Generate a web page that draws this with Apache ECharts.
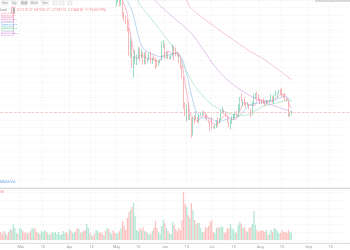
<!DOCTYPE html>
<html><head><meta charset="utf-8">
<script src="https://cdn.jsdelivr.net/npm/echarts@6/dist/echarts.min.js"></script>
<style>html,body{margin:0;padding:0;background:#fff}#c{width:350px;height:250px}</style>
</head><body><div id="c"></div>
<script>
// ---- data (prices in thousands USD) ----
const startDate = '2022-02-16';
const endDate = '2022-09-27';
const candleStart = '2022-05-01';
// [open, close, low, high]
const ohlc = [
[37.6,38.5,37.4,38.6],[38.5,38.5,38.0,39.1],[38.5,37.7,37.5,38.6],[37.7,39.7,37.6,40.0],
[39.7,36.5,35.8,39.8],[36.5,36.0,35.3,36.6],[36.0,35.5,34.8,36.1],[35.5,34.0,33.7,35.5],
[34.0,30.1,30.0,34.3],[30.1,31.0,29.7,32.6],[31.0,29.0,28.2,32.2],[29.0,29.05,26.7,30.0],
[29.05,29.3,28.7,30.9],[29.3,29.8,28.6,30.2],[29.8,31.3,29.5,31.3],[31.3,29.9,29.2,31.3],
[29.9,30.4,29.6,31.0],[30.4,28.7,28.7,30.6],[28.7,30.3,28.7,30.5],[30.3,29.2,28.8,30.7],
[29.2,29.4,29.0,29.6],[29.4,30.3,29.3,30.4],[30.3,29.1,28.9,30.6],[29.1,29.6,28.8,29.8],
[29.6,29.5,29.3,30.2],[29.5,29.2,28.0,29.8],[29.2,28.6,28.3,29.4],[28.6,29.0,28.5,29.2],
[29.0,29.4,28.9,29.5],[29.4,31.7,29.3,32.2],[31.7,31.8,31.2,32.4],[31.8,29.8,29.5,31.9],
[29.8,30.5,29.6,30.6],[30.5,29.7,29.5,30.6],[29.7,29.9,29.5,29.9],[29.9,29.95,29.5,30.2],
[29.95,31.4,29.9,31.7],[31.4,31.1,29.3,31.5],[31.1,30.2,30.0,31.3],[30.2,30.1,29.9,30.6],
[30.1,29.1,28.9,30.3],[29.1,28.4,28.1,29.4],[28.4,26.6,26.6,28.5],[26.6,22.5,22.0,26.9],
[22.5,22.2,20.9,23.0],[22.2,22.6,20.1,22.7],[22.6,20.4,20.3,22.9],[20.4,20.5,20.3,21.3],
[20.5,19.0,17.6,20.7],[19.0,20.6,18.0,20.7],[20.6,20.55,19.7,21.0],[20.55,20.7,20.4,21.7],
[20.7,20.0,19.8,20.8],[20.0,21.1,19.9,21.2],[21.1,21.2,20.9,21.5],[21.2,21.5,21.0,21.6],
[21.5,21.0,21.0,21.8],[21.0,20.7,20.5,21.5],[20.7,20.3,20.2,21.2],[20.3,20.1,19.9,20.4],
[20.1,19.8,18.7,20.1],[19.8,19.3,19.0,20.8],[19.3,19.25,19.0,19.4],[19.25,19.3,19.0,19.6],
[19.3,20.2,19.1,20.3],[20.2,20.15,19.3,20.7],[20.15,20.5,19.8,20.6],[20.5,21.6,20.3,21.8],
[21.6,21.65,21.2,22.3],[21.65,21.6,21.3,21.9],[21.6,20.8,20.7,21.6],[20.8,19.9,19.9,20.9],
[19.9,19.3,19.2,20.0],[19.3,20.2,18.9,20.3],[20.2,20.6,19.7,20.9],[20.6,20.8,20.4,21.2],
[20.8,21.2,20.5,21.6],[21.2,20.8,20.8,21.7],[20.8,22.4,20.8,22.7],[22.4,23.4,21.6,23.8],
[23.4,23.2,23.0,24.3],[23.2,23.25,22.4,23.4],[23.25,22.7,22.5,23.8],[22.7,22.5,22.2,23.0],
[22.5,22.6,22.4,23.0],[22.6,22.0,21.9,22.7],[22.0,21.3,20.7,22.0],[21.3,22.9,21.0,23.1],
[22.9,23.8,22.6,24.2],[23.8,23.85,23.5,24.4],[23.85,23.6,23.5,24.6],[23.6,23.3,23.2,24.2],
[23.3,23.25,22.8,23.5],[23.25,23.0,22.7,23.4],[23.0,22.8,22.7,23.6],[22.8,22.6,22.4,23.2],
[22.6,23.3,22.6,23.4],[23.3,23.2,23.0,23.3],[23.2,23.25,22.9,23.4],[23.25,23.8,23.2,24.2],
[23.8,23.2,22.9,23.9],[23.2,23.9,22.7,24.2],[23.9,23.95,23.9,24.8],[23.95,24.4,23.6,24.4],
[24.4,24.45,24.3,24.9],[24.45,24.3,24.2,25.0],[24.3,24.1,23.8,25.2],[24.1,23.9,23.7,24.2],
[23.9,23.3,23.2,24.4],[23.3,23.2,23.1,23.6],[23.2,20.8,20.8,23.2],[20.8,21.1,20.8,21.4],
[21.1,21.5,21.1,21.7]
];
const lastPrice = 21.45;
// daily volume (relative units), from startDate
const volumes = [
8,6,9,7,5,8,11,10,16,12, 7,6,12,11,9,7,8,6,7,9,
12,11,12,8,7,6,9,8,10,8, 7,5,6,8,7,8,6,8,5,6,
9,7,8,6,11,9,7,8,9,12, 11,7,8,9,10,16,12,7,5,4,
6,10,9,7,8,6,5,9,12,11, 8,6,10,7,6,7,9,12,19,14,
10,22,28,30,33,37,24,10,9,12, 10,13,9,8,7,5,6,9,12,19,
12,8,6,14,20,17,12,9,6,6, 18,15,11,9,12,10,20,48,36,33,
25,22,37,30,20,16,17,17,12,8, 8,13,12,14,18,20,8,7,12,13,
12,14,13,7,8,12,11,16,12,10, 8,7,15,18,16,12,13,9,8,12,
13,16,29,15,10,8,9,10,9,8, 10,5,6,10,8,12,11,9,7,7,
10,8,8,7,10,8,7
];
// up/down direction of the days before the first drawn candle
const preCandleDir = 'dddudduduuudu' + 'udddudduudduduuuduuduuuuuuuuudd' + 'uduuddududduududduudddududuudd';
// moving-average lines: [MM-DD, value]
const ma5 = [['05-05',38.2],['05-06',37.7],['05-07',37.1],['05-08',36.3],['05-09',34.4],['05-10',33.3],['05-11',31.9],['05-12',30.6],['05-13',29.7],['05-14',29.6],['05-17',30.1],['05-20',29.7],['05-24',29.5],['05-28',29.2],['05-31',30.1],['06-03',30.7],['06-06',30.3],['06-09',30.5],['06-11',29.8],['06-12',28.9],['06-13',27.3],['06-14',25.8],['06-15',24.5],['06-16',22.9],['06-17',21.6],['06-19',20.6],['06-22',20.2],['06-25',20.9],['06-28',20.9],['07-01',20.0],['07-04',19.6],['07-07',20.4],['07-10',21.2],['07-13',20.4],['07-16',20.4],['07-19',21.7],['07-22',23.0],['07-25',22.6],['07-28',22.5],['07-31',23.5],['08-03',23.2],['08-06',23.0],['08-09',23.3],['08-12',23.8],['08-15',24.2],['08-18',23.8],['08-19',23.1],['08-20',22.5],['08-21',22.0]];
const ma10 = [['05-08',38.3],['05-11',36.8],['05-14',34.0],['05-16',32.2],['05-18',31.2],['05-21',30.6],['05-25',30.2],['05-29',29.9],['06-02',30.0],['06-06',30.3],['06-09',30.4],['06-12',29.6],['06-14',28.2],['06-16',26.3],['06-18',24.1],['06-20',22.3],['06-23',20.8],['06-27',20.6],['07-01',20.5],['07-05',20.0],['07-09',20.3],['07-13',20.6],['07-17',20.7],['07-20',21.2],['07-24',22.3],['07-28',22.8],['08-01',22.9],['08-05',23.2],['08-09',23.2],['08-13',23.6],['08-17',23.9],['08-21',23.1]];
const ma20 = [['05-14',38.6],['05-17',37.4],['05-23',35.7],['05-29',33.9],['06-04',32.0],['06-09',30.4],['06-13',28.5],['06-20',25.5],['06-24',24.3],['06-28',23.3],['07-02',22.5],['07-07',21.8],['07-12',21.3],['07-16',21.1],['07-20',21.0],['07-24',21.1],['07-28',21.6],['08-02',22.3],['08-06',22.6],['08-10',22.8],['08-15',23.1],['08-19',23.3],['08-21',23.2]];
const ma60 = [['05-25',38.6],['05-29',37.6],['06-08',35.5],['06-18',33.4],['06-26',30.8],['07-03',28.4],['07-11',26.4],['07-20',24.8],['07-31',23.3],['08-08',22.6],['08-17',21.9],['08-21',21.6]];
const ma120 = [['06-15',38.6],['06-17',37.4],['06-26',35.6],['07-03',34.4],['07-10',33.2],['07-18',31.9],['07-26',30.6],['08-04',29.4],['08-12',28.0],['08-21',26.4]];
const maNames = ['MA5:21998.4','MA10:23123.7','MA20:23195.5','MA60:21612.0','MA120:26409.3'];
const toolbarLabels = ['Hour','Day','Week','Month','Year'];
const ohlcText = 'O21110.27  H21692.27  L21057.51  C21468.87  +1.9%(+0.09%)';
const monthNames = ['Jan','Feb','Mar','Apr','May','Jun','Jul','Aug','Sep','Oct','Nov','Dec'];

// ---- build ----
const categories = [];
for (let t = Date.parse(startDate + 'T00:00:00Z'); t <= Date.parse(endDate + 'T00:00:00Z'); t += 86400000) {
  categories.push(new Date(t).toISOString().slice(0, 10));
}
const yr = startDate.slice(0, 4) + '-';
const candleOffset = categories.indexOf(candleStart);
const candleData = ohlc.map((r, i) => [categories[candleOffset + i], r[0], r[1], r[2], r[3]]);
const UP = '#3cbd8e', DOWN = '#f47476';
const volData = volumes.map((v, i) => {
  const ci = i - candleOffset;
  let up;
  if (ci >= 0 && ci < ohlc.length) up = ohlc[ci][1] >= ohlc[ci][0];
  else up = preCandleDir[i] === 'u';
  return { value: [categories[i], v], itemStyle: { color: up ? '#b2e7d2' : '#ffc0c0' } };
});
const toLine = arr => arr.map(p => [yr + p[0], p[1]]);
const isTickDay = (idx, v) => { const d = +String(v).slice(8, 10); return d === 1 || d === 15; };
const maColors = ['#f6a3c0', '#a9ccf3', '#aee4cb', '#ddb2ea', '#f5b5dc'];
const legendColors = ['#f06292', '#d35ab8', '#5b9bf0', '#3cc47c', '#c060d0'];

const gridSplit = { show: true, interval: isTickDay, lineStyle: { color: '#e8e8e8', type: [1, 1.5], width: 0.6 } };
const font = 'Roboto, sans-serif';

const graphics = [];
// toolbar
const bx = [1.7, 11, 20.7, 30.7, 41.3], bw = [6.6, 6.7, 7, 7, 7.3];
toolbarLabels.forEach((t, i) => {
  graphics.push({ type: 'rect', shape: { x: bx[i], y: 0.8, width: bw[i], height: 4.4 },
    style: { fill: i === 2 ? '#e4e4e4' : '#f8f8f8', stroke: '#e4e4e4', lineWidth: 0.4 } });
  graphics.push({ type: 'text', x: bx[i] + bw[i] / 2, y: 3, style: { text: t, fill: '#999', font: '2.6px ' + font, align: 'center', verticalAlign: 'middle' } });
});
[[53, 4.3], [59.5, 4.6], [68, 3.8]].forEach(p => {
  graphics.push({ type: 'rect', shape: { x: p[0], y: 1, width: p[1], height: 4 }, style: { fill: '#f6f6f6', stroke: '#d6d6d6', lineWidth: 0.5 } });
});
// OHLC line
graphics.push({ type: 'text', x: 0, y: 10.3, style: { text: 'Load', fill: '#888', font: '3px ' + font, verticalAlign: 'middle' } });
graphics.push({ type: 'rect', shape: { x: 11.6, y: 7.2, width: 3, height: 6.4 }, style: { fill: '#fff', stroke: DOWN, lineWidth: 0.6 } });
graphics.push({ type: 'rect', shape: { x: 12.9, y: 8.2, width: 1.4, height: 4.4 }, style: { fill: UP } });
graphics.push({ type: 'text', x: 17, y: 10.3, style: { text: ohlcText, fill: '#f58a8a', font: '3.2px ' + font, verticalAlign: 'middle' } });
// MA legend column
graphics.push({ type: 'line', shape: { x1: 13.6, y1: 7, x2: 13.6, y2: 33 }, style: { stroke: '#f4a3c4', lineWidth: 0.6 } });
const ly = [15, 19.6, 24.2, 28.9, 33.7];
maNames.forEach((t, i) => {
  graphics.push({ type: 'rect', shape: { x: 1.6, y: ly[i] - 1.8, width: 11.8, height: 3.6 }, style: { fill: '#fff', stroke: legendColors[i], lineWidth: 0.4, opacity: 0.8 } });
  graphics.push({ type: 'text', x: 2.2, y: ly[i], style: { text: t, fill: legendColors[i], font: '2.3px ' + font, verticalAlign: 'middle', opacity: 0.85 } });
});
// panel titles & separators
graphics.push({ type: 'text', x: 0, y: 182, style: { text: 'MAVol/Vol:', fill: '#6aa4e8', font: '3.2px ' + font, verticalAlign: 'middle' } });
graphics.push({ type: 'text', x: 0, y: 192.2, style: { text: 'Vol', fill: DOWN, font: '3px ' + font, verticalAlign: 'middle' } });
graphics.push({ type: 'line', shape: { x1: 0, y1: 188.3, x2: 350, y2: 188.3 }, style: { stroke: '#d9d9d9', lineWidth: 1.2 } });
graphics.push({ type: 'line', shape: { x1: 0, y1: 243.3, x2: 350, y2: 243.3 }, style: { stroke: '#d0d0d0', lineWidth: 0.8 } });
graphics.push({ type: 'rect', shape: { x: 315, y: 0, width: 35, height: 1.8 }, style: { fill: '#cdcdcd' } });

const chart = echarts.init(document.getElementById('c'));
chart.setOption({
  animation: false,
  backgroundColor: '#fff',
  grid: [
    { left: 0, right: 0, top: 0, height: 187.2 },
    { left: 0, right: 0, top: 190, height: 50 }
  ],
  xAxis: [
    { type: 'category', gridIndex: 0, data: categories, boundaryGap: true,
      axisLine: { show: false }, axisTick: { show: false }, axisLabel: { show: false }, splitLine: gridSplit },
    { type: 'category', gridIndex: 1, data: categories, boundaryGap: true,
      axisLine: { show: false }, axisTick: { show: false }, splitLine: gridSplit,
      axisLabel: { show: true, interval: isTickDay, margin: 5, color: '#a0a0a0', fontSize: 4, fontFamily: font,
        formatter: v => { const d = +v.slice(8, 10); return d === 1 ? monthNames[+v.slice(5, 7) - 1] : (d === 15 ? '15' : ''); } } }
  ],
  yAxis: [
    { type: 'value', gridIndex: 0, min: 10.17, max: 38.44, interval: 1.13, axisLabel: { show: false },
      axisLine: { show: false }, axisTick: { show: false },
      splitLine: { show: true, lineStyle: { color: '#e9e9e9', type: [1, 1.5], width: 0.6 } } },
    { type: 'value', gridIndex: 1, min: 0, max: 50, interval: 8, axisLabel: { show: false },
      axisLine: { show: false }, axisTick: { show: false },
      splitLine: { show: true, lineStyle: { color: '#e9e9e9', type: [1, 1.5], width: 0.6 } } }
  ],
  series: [
    { type: 'candlestick', xAxisIndex: 0, yAxisIndex: 0, data: candleData, clip: true,
      dimensions: ['date', 'open', 'close', 'lowest', 'highest'],
      encode: { x: 'date', y: ['open', 'close', 'lowest', 'highest'] },
      barWidth: '80%',
      itemStyle: { color: UP, color0: DOWN, borderColor: UP, borderColor0: DOWN, borderWidth: 0.5 },
      markLine: { silent: true, symbol: 'none', label: { show: false },
        lineStyle: { color: '#f7b9b9', type: [3, 1.5], width: 0.7 }, data: [{ yAxis: lastPrice }] } },
    ...[ma5, ma10, ma20, ma60, ma120].map((m, k) => ({
      type: 'line', xAxisIndex: 0, yAxisIndex: 0, data: toLine(m), showSymbol: false, symbol: 'none',
      smooth: 0.3, clip: true, lineStyle: { color: maColors[k], width: 0.8 }, z: 1 })),
    { type: 'bar', xAxisIndex: 1, yAxisIndex: 1, data: volData, barWidth: '82%' }
  ],
  graphic: graphics
});
</script>
</body></html>
